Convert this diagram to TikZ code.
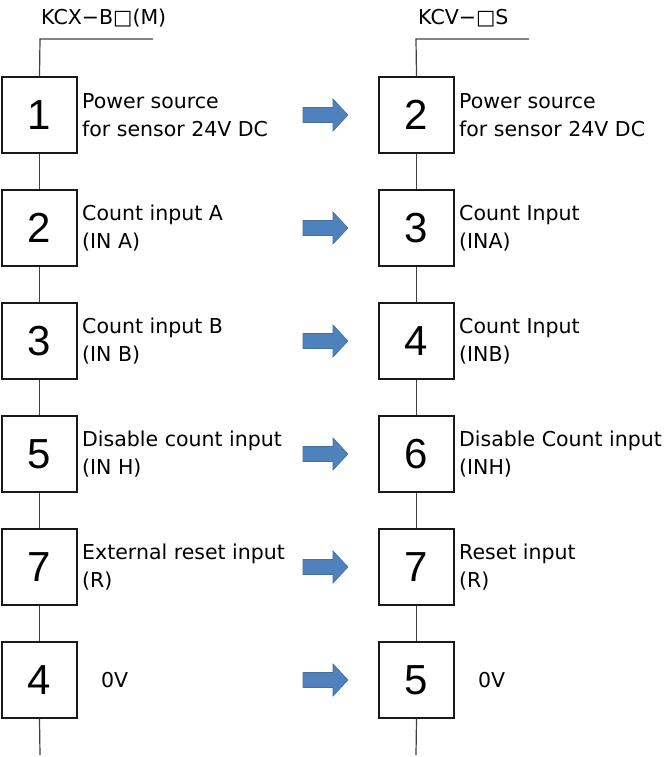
\documentclass[tikz,border=0pt]{standalone}
\usepackage{fontspec}
\setmainfont{DejaVu Sans}
\newfontfamily\numfont{Liberation Sans}
\definecolor{arrowblue}{HTML}{4F81BD}
\definecolor{arrowedge}{HTML}{41719C}
\begin{document}
\begin{tikzpicture}[x=1pt,y=-1pt,
  pinbox/.style={draw=black!90, line width=1.1pt, fill=white, minimum width=75pt, minimum height=76pt, inner sep=0pt, font=\numfont\fontsize{42}{42}\selectfont},
  wire/.style={draw=black!75, line width=1.2pt},
  lbl/.style={anchor=west, align=left, inner sep=0pt, font=\fontsize{20.5}{27.5}\selectfont},
  ttl/.style={anchor=west, inner sep=0pt, font=\fontsize{20.5}{22}\selectfont},
  bigarrow/.style={fill=arrowblue, draw=arrowedge, line width=0.6pt}]
\useasboundingbox (0,0) rectangle (668,757);
% titles
\node[ttl] (tl) at (41,18) {KCX−B□(M)};
\node[ttl] (tr) at (418,18) {KCV−□S};
\coordinate (Lc) at (40,39);
\coordinate (Lh) at (153,39);
\coordinate (Le) at (40,755);
\coordinate (Rc) at (416,39);
\coordinate (Rh) at (529,39);
\coordinate (Re) at (416,755);
% boxes
\foreach \i/\y/\l/\r in {1/115/1/2, 2/228/2/3, 3/341/3/4, 4/454/5/6, 5/567/7/7, 6/680/4/5}{
  \node[pinbox] (L\i) at (39.5,\y) {\l};
  \node[pinbox] (R\i) at (416.5,\y) {\r};
  \draw[bigarrow] (303,\y-7.5) -- (333,\y-7.5) -- (333,\y-16) -- (348,\y) -- (333,\y+16) -- (333,\y+7.5) -- (303,\y+7.5) -- cycle;
}
% wires
\draw[wire] (Lh) -- (Lc) -- (L1.north);
\draw[wire] (Rh) -- (Rc) -- (R1.north);
\foreach \a/\b in {1/2,2/3,3/4,4/5,5/6}{
  \draw[wire] (L\a.south) -- (L\b.north);
  \draw[wire] (R\a.south) -- (R\b.north);
}
\draw[wire] (L6.south) -- (Le);
\draw[wire] (R6.south) -- (Re);
% left labels
\node[lbl] (la1) at (82,115) {Power source\\for sensor 24V DC};
\node[lbl] (la2) at (82,228) {Count input A\\(IN A)};
\node[lbl] (la3) at (82,341) {Count input B\\(IN B)};
\node[lbl] (la4) at (82,454) {Disable count input\\(IN H)};
\node[lbl] (la5) at (82,567) {External reset input\\(R)};
\node[lbl] (la6) at (101,680) {0V};
% right labels
\node[lbl] (ra1) at (459,115) {Power source\\for sensor 24V DC};
\node[lbl] (ra2) at (459,228) {Count Input\\(INA)};
\node[lbl] (ra3) at (459,341) {Count Input\\(INB)};
\node[lbl] (ra4) at (459,454) {Disable Count input\\(INH)};
\node[lbl] (ra5) at (459,567) {Reset input\\(R)};
\node[lbl] (ra6) at (478,680) {0V};
\end{tikzpicture}
\end{document}
